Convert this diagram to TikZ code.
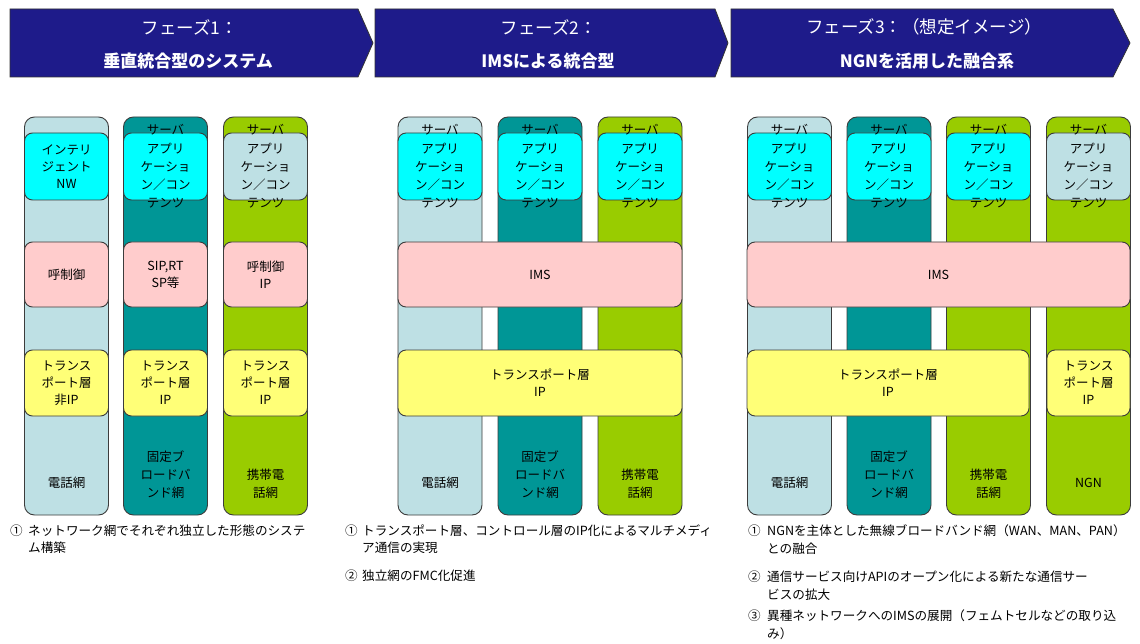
\documentclass[tikz,border=0pt]{standalone}
\usepackage{fontspec}
\setmainfont{Noto Sans CJK JP}
\definecolor{navy}{RGB}{30,27,138}
\definecolor{cLight}{RGB}{190,224,228}
\definecolor{cTeal}{RGB}{0,150,150}
\definecolor{cGreen}{RGB}{153,204,0}
\definecolor{cCyan}{RGB}{0,255,255}
\definecolor{cPink}{RGB}{255,204,204}
\definecolor{cYellow}{RGB}{255,255,119}
\definecolor{edgec}{RGB}{60,60,60}
\begin{document}
\begin{tikzpicture}[x=1pt,y=-1pt,
  hdr/.style={draw=black!80, line width=0.8pt, fill=navy},
  hdrA/.style={text=white, inner sep=0pt, font=\fontsize{17.5}{20}\selectfont},
  hdrB/.style={text=white, inner sep=0pt, font=\fontsize{17}{20}\selectfont\bfseries},
  col/.style={draw=edgec, line width=0.9pt, rounded corners=10pt, minimum width=84pt, minimum height=398pt, inner sep=0pt},
  box/.style={draw=edgec, line width=0.9pt, rounded corners=8pt, inner sep=0pt, align=center, font=\fontsize{12.5}{17}\selectfont},
  topbox/.style={box, minimum width=84pt, minimum height=67pt},
  midbox/.style={box, fill=cPink, minimum height=65pt},
  lowbox/.style={box, fill=cYellow, minimum height=66pt},
  applbl/.style={inner sep=0pt, align=center, font=\fontsize{12.5}{18.2}\selectfont},
  netlbl/.style={inner sep=0pt, align=center, font=\fontsize{12.5}{18}\selectfont},
  btxt/.style={anchor=base west, inner sep=0pt, font=\fontsize{12.6}{17}\selectfont}
]
\useasboundingbox[fill=white] (0,0) rectangle (1140,644);

% ---------- headers ----------
\path[hdr] (10,9) -- (358,9) -- (373,43) -- (358,77) -- (10,77) -- cycle;
\node[hdrA] (h1a) at (190,27) {フェーズ1：};
\node[hdrB] (h1b) at (188,61) {垂直統合型のシステム};
\path[hdr] (375,9) -- (715,9) -- (728,43) -- (715,77) -- (375,77) -- cycle;
\node[hdrA] (h2a) at (549,27) {フェーズ2：};
\node[hdrB] (h2b) at (548,61) {IMSによる統合型};
\path[hdr] (731,9) -- (1113,9) -- (1130,43) -- (1113,77) -- (731,77) -- cycle;
\node[hdrA] (h3a) at (924,27) {フェーズ3：（想定イメージ）};
\node[hdrB] (h3b) at (927,61) {NGNを活用した融合系};

% ---------- phase 1 ----------
\node[col, fill=cLight] (p1c1) at (66.5,316) {};
\node[col, fill=cTeal]  (p1c2) at (165.5,316) {};
\node[col, fill=cGreen] (p1c3) at (265.5,316) {};

\node[topbox, fill=cCyan] (p1t1) at (66.5,166.5) {インテリ\\ジェント\\NW};
\node[topbox, fill=cCyan] (p1t2) at (165.5,166.5) {};
\node[applbl] (p1a2) at (p1t2.center) {サーバ\\アプリ\\ケーショ\\ン／コン\\テンツ};
\node[topbox, fill=cLight] (p1t3) at (265.5,166.5) {};
\node[applbl] (p1a3) at (p1t3.center) {サーバ\\アプリ\\ケーショ\\ン／コン\\テンツ};

\node[midbox, minimum width=84pt] (p1m1) at (66.5,274.5) {呼制御};
\node[midbox, minimum width=84pt] (p1m2) at (165.5,274.5) {SIP,RT\\SP等};
\node[midbox, minimum width=84pt] (p1m3) at (265.5,274.5) {呼制御\\IP};

\node[lowbox, minimum width=84pt] (p1b1) at (66.5,383) {トランス\\ポート層\\非IP};
\node[lowbox, minimum width=84pt] (p1b2) at (165.5,383) {トランス\\ポート層\\IP};
\node[lowbox, minimum width=84pt] (p1b3) at (265.5,383) {トランス\\ポート層\\IP};

\node[netlbl] (p1l1) at (66.5,483) {電話網};
\node[netlbl] (p1l2) at (165.5,475) {固定ブ\\ロードバ\\ンド網};
\node[netlbl] (p1l3) at (265.5,484) {携帯電\\話網};

% ---------- phase 2 ----------
\node[col, fill=cLight] (p2c1) at (440,316) {};
\node[col, fill=cTeal]  (p2c2) at (540,316) {};
\node[col, fill=cGreen] (p2c3) at (640,316) {};

\node[topbox, fill=cCyan] (p2t1) at (440,166.5) {};
\node[applbl] (p2a1) at (p2t1.center) {サーバ\\アプリ\\ケーショ\\ン／コン\\テンツ};
\node[topbox, fill=cCyan] (p2t2) at (540,166.5) {};
\node[applbl] (p2a2) at (p2t2.center) {サーバ\\アプリ\\ケーショ\\ン／コン\\テンツ};
\node[topbox, fill=cCyan] (p2t3) at (640,166.5) {};
\node[applbl] (p2a3) at (p2t3.center) {サーバ\\アプリ\\ケーショ\\ン／コン\\テンツ};

\node[midbox, minimum width=284pt] (p2m) at (540,274.5) {IMS};
\node[lowbox, minimum width=284pt] (p2b) at (540,383) {トランスポート層\\IP};

\node[netlbl] (p2l1) at (440,483) {電話網};
\node[netlbl] (p2l2) at (540,475) {固定ブ\\ロードバ\\ンド網};
\node[netlbl] (p2l3) at (640,484) {携帯電\\話網};

% ---------- phase 3 ----------
\node[col, fill=cLight] (p3c1) at (789.5,316) {};
\node[col, fill=cTeal]  (p3c2) at (889,316) {};
\node[col, fill=cGreen] (p3c3) at (988.5,316) {};
\node[col, fill=cGreen] (p3c4) at (1088.5,316) {};

\node[topbox, fill=cCyan] (p3t1) at (789.5,166.5) {};
\node[applbl] (p3a1) at (p3t1.center) {サーバ\\アプリ\\ケーショ\\ン／コン\\テンツ};
\node[topbox, fill=cCyan] (p3t2) at (889,166.5) {};
\node[applbl] (p3a2) at (p3t2.center) {サーバ\\アプリ\\ケーショ\\ン／コン\\テンツ};
\node[topbox, fill=cCyan] (p3t3) at (988.5,166.5) {};
\node[applbl] (p3a3) at (p3t3.center) {サーバ\\アプリ\\ケーショ\\ン／コン\\テンツ};
\node[topbox, fill=cLight] (p3t4) at (1088.5,166.5) {};
\node[applbl] (p3a4) at (p3t4.center) {サーバ\\アプリ\\ケーショ\\ン／コン\\テンツ};

\node[midbox, minimum width=383pt] (p3m) at (938.5,274.5) {IMS};
\node[lowbox, minimum width=282pt] (p3b) at (888,383) {トランスポート層\\IP};
\node[lowbox, minimum width=83pt] (p3b4) at (1088.5,383) {トランス\\ポート層\\IP};

\node[netlbl] (p3l1) at (789.5,483) {電話網};
\node[netlbl] (p3l2) at (889,475) {固定ブ\\ロードバ\\ンド網};
\node[netlbl] (p3l3) at (988.5,484) {携帯電\\話網};
\node[netlbl] (p3l4) at (1088.5,483) {NGN};

% ---------- notes ----------
\node[btxt] (n1n) at (10,535) {①};
\node[btxt] (n1a) at (28,535) {ネットワーク網でそれぞれ独立した形態のシステ};
\node[btxt] (n1b) at (28,552) {ム構築};

\node[btxt] (n2n) at (345,535) {①};
\node[btxt] (n2a) at (362,535) {トランスポート層、コントロール層のIP化によるマルチメディ};
\node[btxt] (n2b) at (362,552) {ア通信の実現};
\node[btxt] (n2m) at (345,580) {②};
\node[btxt] (n2c) at (362,580) {独立網のFMC化促進};

\node[btxt] (n3n) at (748,535) {①};
\node[btxt] (n3a) at (767,535) {NGNを主体とした無線ブロードバンド網（WAN、MAN、PAN）};
\node[btxt] (n3b) at (767,553) {との融合};
\node[btxt] (n3m) at (748,581) {②};
\node[btxt] (n3c) at (767,581) {通信サービス向けAPIのオープン化による新たな通信サー};
\node[btxt] (n3d) at (767,599) {ビスの拡大};
\node[btxt] (n3o) at (748,620) {③};
\node[btxt] (n3e) at (767,620) {異種ネットワークへのIMSの展開（フェムトセルなどの取り込};
\node[btxt] (n3f) at (767,638) {み）};
\end{tikzpicture}
\end{document}
